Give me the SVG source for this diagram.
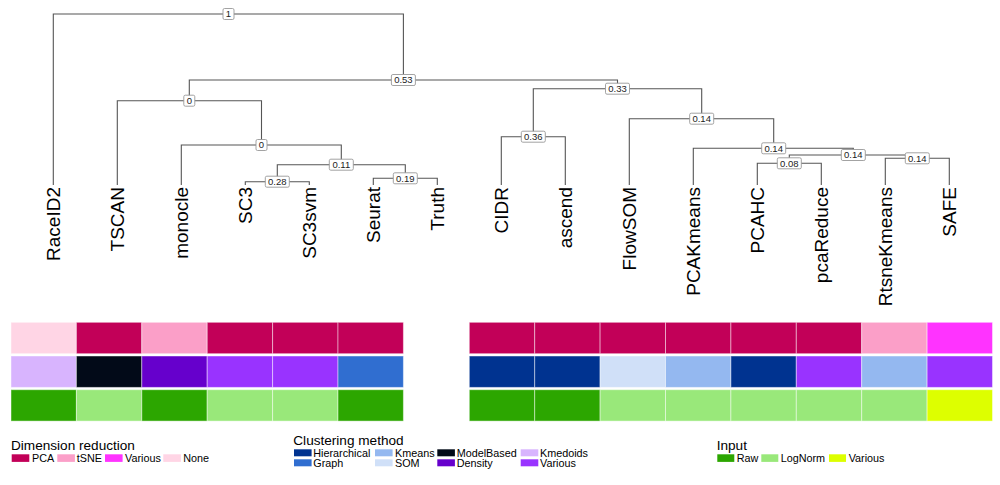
<svg xmlns="http://www.w3.org/2000/svg" width="1000" height="485" viewBox="0 0 1000 485">
<style>
.e{fill:none;stroke:#555;stroke-width:1.1}
.lb rect{fill:#fff;stroke:#999;stroke-width:0.9}
.lb text{font-family:"Liberation Sans",Arial,sans-serif;font-size:9.5px;fill:#222;text-anchor:middle}
.leaf{font-family:"Liberation Sans",Arial,sans-serif;font-size:19px;fill:#000;text-anchor:end}
.hm rect{stroke:#fff;stroke-width:1;stroke-opacity:0.45}
.lt{font-family:"Liberation Sans",Arial,sans-serif;font-size:13.6px;fill:#000}
.li{font-family:"Liberation Sans",Arial,sans-serif;font-size:10.8px;fill:#000}
.pca{fill:#C20058}.tsne{fill:#FB9FC8}.dvar{fill:#FF33FF}.none{fill:#FFD5E5}
.hier{fill:#003390}.graph{fill:#306ED0}.km{fill:#94B8F0}.som{fill:#D0E0F8}.mb{fill:#020A18}.dens{fill:#6600CC}.kmed{fill:#D8B4FE}.cvar{fill:#9933FF}
.raw{fill:#2CA600}.log{fill:#99E87A}.ivar{fill:#DDFF00}
</style>
<g id="connectors">
<path class="e" d="M53.3 185V14H403.4V80"/>
<path class="e" d="M189.3 100.7V80H617.5V88.7"/>
<path class="e" d="M117.3 185V100.7H261.5V145"/>
<path class="e" d="M181.3 185V145H341.3V164.7"/>
<path class="e" d="M277.3 181.7V164.7H405.3V178.3"/>
<path class="e" d="M245.3 185V181.7H309.3V185"/>
<path class="e" d="M373.3 185V178.3H437.3V185"/>
<path class="e" d="M533.3 136.7V88.7H701.7V118.7"/>
<path class="e" d="M501.3 185V136.7H565.3V185"/>
<path class="e" d="M629.3 185V118.7H773.7V148.3"/>
<path class="e" d="M693.3 185V148.3H853.3V155"/>
<path class="e" d="M789.3 163.3V155H917.3V158.3"/>
<path class="e" d="M757.3 185V163.3H821.3V185"/>
<path class="e" d="M885.3 185V158.3H949.3V185"/>
</g>
<g id="edge-labels" class="lb">
<g id="lbl-1"><rect x="223" y="8.5" width="11" height="11" rx="1.5"/><text x="228.5" y="17.4">1</text></g>
<g id="lbl-053"><rect x="391.4" y="74.5" width="24" height="11" rx="1.5"/><text x="403.4" y="83.4">0.53</text></g>
<g id="lbl-0a"><rect x="183.8" y="95.2" width="11" height="11" rx="1.5"/><text x="189.3" y="104.1">0</text></g>
<g id="lbl-0b"><rect x="256" y="139.5" width="11" height="11" rx="1.5"/><text x="261.5" y="148.4">0</text></g>
<g id="lbl-011"><rect x="329.3" y="159.2" width="24" height="11" rx="1.5"/><text x="341.3" y="168.1">0.11</text></g>
<g id="lbl-028"><rect x="265.3" y="176.2" width="24" height="11" rx="1.5"/><text x="277.3" y="185.1">0.28</text></g>
<g id="lbl-019"><rect x="393.3" y="172.8" width="24" height="11" rx="1.5"/><text x="405.3" y="181.7">0.19</text></g>
<g id="lbl-033"><rect x="605.5" y="83.2" width="24" height="11" rx="1.5"/><text x="617.5" y="92.1">0.33</text></g>
<g id="lbl-036"><rect x="521.3" y="131.2" width="24" height="11" rx="1.5"/><text x="533.3" y="140.1">0.36</text></g>
<g id="lbl-014a"><rect x="689.7" y="113.2" width="24" height="11" rx="1.5"/><text x="701.7" y="122.1">0.14</text></g>
<g id="lbl-014b"><rect x="761.7" y="142.8" width="24" height="11" rx="1.5"/><text x="773.7" y="151.7">0.14</text></g>
<g id="lbl-014c"><rect x="841.3" y="149.5" width="24" height="11" rx="1.5"/><text x="853.3" y="158.4">0.14</text></g>
<g id="lbl-008"><rect x="777.3" y="157.8" width="24" height="11" rx="1.5"/><text x="789.3" y="166.7">0.08</text></g>
<g id="lbl-014d"><rect x="905.3" y="152.8" width="24" height="11" rx="1.5"/><text x="917.3" y="161.7">0.14</text></g>
</g>
<g id="leaves">
<g id="leaf-RaceID2"><text class="leaf" transform="translate(60.3 187) rotate(-90)">RaceID2</text></g>
<g id="leaf-TSCAN"><text class="leaf" transform="translate(124.3 187) rotate(-90)">TSCAN</text></g>
<g id="leaf-monocle"><text class="leaf" transform="translate(188.3 187) rotate(-90)">monocle</text></g>
<g id="leaf-SC3"><text class="leaf" transform="translate(252.3 187) rotate(-90)">SC3</text></g>
<g id="leaf-SC3svm"><text class="leaf" transform="translate(316.3 187) rotate(-90)">SC3svm</text></g>
<g id="leaf-Seurat"><text class="leaf" transform="translate(380.3 187) rotate(-90)">Seurat</text></g>
<g id="leaf-Truth"><text class="leaf" transform="translate(444.3 187) rotate(-90)">Truth</text></g>
<g id="leaf-CIDR"><text class="leaf" transform="translate(508.3 187) rotate(-90)">CIDR</text></g>
<g id="leaf-ascend"><text class="leaf" transform="translate(572.3 187) rotate(-90)">ascend</text></g>
<g id="leaf-FlowSOM"><text class="leaf" transform="translate(636.3 187) rotate(-90)">FlowSOM</text></g>
<g id="leaf-PCAKmeans"><text class="leaf" transform="translate(700.3 187) rotate(-90)">PCAKmeans</text></g>
<g id="leaf-PCAHC"><text class="leaf" transform="translate(764.3 187) rotate(-90)">PCAHC</text></g>
<g id="leaf-pcaReduce"><text class="leaf" transform="translate(828.3 187) rotate(-90)">pcaReduce</text></g>
<g id="leaf-RtsneKmeans"><text class="leaf" transform="translate(892.3 187) rotate(-90)">RtsneKmeans</text></g>
<g id="leaf-SAFE"><text class="leaf" transform="translate(956.3 187) rotate(-90)">SAFE</text></g>
</g>
<g id="heatmap-left" class="hm">
<rect class="none" x="11" y="322.3" width="65.4" height="31.4"/>
<rect class="pca" x="76.4" y="322.3" width="65.4" height="31.4"/>
<rect class="tsne" x="141.8" y="322.3" width="65.4" height="31.4"/>
<rect class="pca" x="207.2" y="322.3" width="65.4" height="31.4"/>
<rect class="pca" x="272.6" y="322.3" width="65.4" height="31.4"/>
<rect class="pca" x="338" y="322.3" width="65.4" height="31.4"/>
<rect class="kmed" x="11" y="356" width="65.4" height="31.4"/>
<rect class="mb" x="76.4" y="356" width="65.4" height="31.4"/>
<rect class="dens" x="141.8" y="356" width="65.4" height="31.4"/>
<rect class="cvar" x="207.2" y="356" width="65.4" height="31.4"/>
<rect class="cvar" x="272.6" y="356" width="65.4" height="31.4"/>
<rect class="graph" x="338" y="356" width="65.4" height="31.4"/>
<rect class="raw" x="11" y="389.7" width="65.4" height="31.4"/>
<rect class="log" x="76.4" y="389.7" width="65.4" height="31.4"/>
<rect class="raw" x="141.8" y="389.7" width="65.4" height="31.4"/>
<rect class="log" x="207.2" y="389.7" width="65.4" height="31.4"/>
<rect class="log" x="272.6" y="389.7" width="65.4" height="31.4"/>
<rect class="raw" x="338" y="389.7" width="65.4" height="31.4"/>
</g>
<g id="heatmap-right" class="hm">
<rect class="pca" x="469.3" y="322.3" width="65.4" height="31.4"/>
<rect class="pca" x="534.7" y="322.3" width="65.4" height="31.4"/>
<rect class="pca" x="600.1" y="322.3" width="65.4" height="31.4"/>
<rect class="pca" x="665.5" y="322.3" width="65.4" height="31.4"/>
<rect class="pca" x="730.9" y="322.3" width="65.4" height="31.4"/>
<rect class="pca" x="796.3" y="322.3" width="65.4" height="31.4"/>
<rect class="tsne" x="861.7" y="322.3" width="65.4" height="31.4"/>
<rect class="dvar" x="927.1" y="322.3" width="65.4" height="31.4"/>
<rect class="hier" x="469.3" y="356" width="65.4" height="31.4"/>
<rect class="hier" x="534.7" y="356" width="65.4" height="31.4"/>
<rect class="som" x="600.1" y="356" width="65.4" height="31.4"/>
<rect class="km" x="665.5" y="356" width="65.4" height="31.4"/>
<rect class="hier" x="730.9" y="356" width="65.4" height="31.4"/>
<rect class="cvar" x="796.3" y="356" width="65.4" height="31.4"/>
<rect class="km" x="861.7" y="356" width="65.4" height="31.4"/>
<rect class="cvar" x="927.1" y="356" width="65.4" height="31.4"/>
<rect class="raw" x="469.3" y="389.7" width="65.4" height="31.4"/>
<rect class="raw" x="534.7" y="389.7" width="65.4" height="31.4"/>
<rect class="log" x="600.1" y="389.7" width="65.4" height="31.4"/>
<rect class="log" x="665.5" y="389.7" width="65.4" height="31.4"/>
<rect class="log" x="730.9" y="389.7" width="65.4" height="31.4"/>
<rect class="log" x="796.3" y="389.7" width="65.4" height="31.4"/>
<rect class="log" x="861.7" y="389.7" width="65.4" height="31.4"/>
<rect class="ivar" x="927.1" y="389.7" width="65.4" height="31.4"/>
</g>
<g id="legend-dimension">
<text class="lt" x="11" y="450.2">Dimension reduction</text>
<rect class="pca" x="11.7" y="454.3" width="17.6" height="7.6"/><text class="li" x="32" y="461.8">PCA</text>
<rect class="tsne" x="57.3" y="454.3" width="17.6" height="7.6"/><text class="li" x="76.7" y="461.8">tSNE</text>
<rect class="dvar" x="105" y="454.3" width="17.6" height="7.6"/><text class="li" x="125" y="461.8">Various</text>
<rect class="none" x="163.3" y="454.3" width="17.6" height="7.6"/><text class="li" x="183.3" y="461.8">None</text>
</g>
<g id="legend-clustering">
<text class="lt" x="293.3" y="445">Clustering method</text>
<rect class="hier" x="294" y="449.3" width="17.6" height="7"/><text class="li" x="313.3" y="456.5">Hierarchical</text>
<rect class="graph" x="294" y="459.3" width="17.6" height="7"/><text class="li" x="313.3" y="466.5">Graph</text>
<rect class="km" x="375" y="449.3" width="17.6" height="7"/><text class="li" x="395" y="456.5">Kmeans</text>
<rect class="som" x="375" y="459.3" width="17.6" height="7"/><text class="li" x="395" y="466.5">SOM</text>
<rect class="mb" x="437.3" y="449.3" width="17.6" height="7"/><text class="li" x="456.7" y="456.5">ModelBased</text>
<rect class="dens" x="437.3" y="459.3" width="17.6" height="7"/><text class="li" x="456.7" y="466.5">Density</text>
<rect class="kmed" x="520.7" y="449.3" width="17.6" height="7"/><text class="li" x="540" y="456.5">Kmedoids</text>
<rect class="cvar" x="520.7" y="459.3" width="17.6" height="7"/><text class="li" x="540" y="466.5">Various</text>
</g>
<g id="legend-input">
<text class="lt" x="716.7" y="450.2">Input</text>
<rect class="raw" x="717.3" y="454.3" width="17" height="7.6"/><text class="li" x="736.7" y="461.8">Raw</text>
<rect class="log" x="761.3" y="454.3" width="17" height="7.6"/><text class="li" x="780.7" y="461.8">LogNorm</text>
<rect class="ivar" x="829" y="454.3" width="17" height="7.6"/><text class="li" x="848.7" y="461.8">Various</text>
</g>
</svg>
